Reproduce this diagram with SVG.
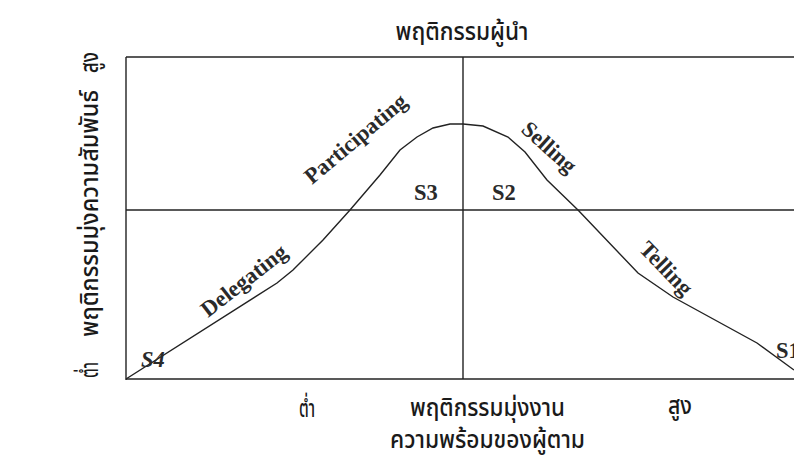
<svg xmlns="http://www.w3.org/2000/svg" width="794" height="459" viewBox="0 0 794 459">
<style>
.ln{fill:none;stroke:#222;stroke-width:1.4}
.th{font-family:"Noto Sans Thai","Noto Serif Thai","Noto Sans Thai Looped",Loma,Garuda,"TlwgTypo","DejaVu Sans",sans-serif;font-size:24px;font-weight:500;fill:#1a1a1a}
.en{font-family:"Liberation Serif","Times New Roman",serif;font-weight:bold;font-size:22.5px;fill:#2a2a2a}
</style>
<rect width="794" height="459" fill="#fff"/>
<g id="axes">
<line class="ln" x1="126" y1="57" x2="794" y2="57"/>
<line class="ln" x1="126" y1="57" x2="126" y2="380"/>
<line class="ln" x1="126" y1="379" x2="794" y2="379"/>
<line class="ln" x1="126" y1="210" x2="794" y2="210"/>
<line class="ln" x1="463" y1="57" x2="463" y2="379"/>
</g>
<g id="connectors">
<polyline id="curve" class="ln" points="126,379 277,283 293,270 323,240 350,210 380,175 400,150 417,137 433,128 450,124 463,124 483,126 508,137 525,152 547,180 578,210 638,273 673,297 757,343 794,370"/>
</g>
<g id="title"><text class="th" x="462" y="40" text-anchor="middle" textLength="133" lengthAdjust="spacingAndGlyphs">พฤติกรรมผู้นำ</text></g>
<g id="y-axis-label">
<text class="th" transform="translate(98,378) rotate(-90)" textLength="16" lengthAdjust="spacingAndGlyphs">ต่ำ</text>
<text class="th" transform="translate(98,337) rotate(-90)" textLength="247" lengthAdjust="spacingAndGlyphs">พฤติกรรมมุ่งความสัมพันธ์</text>
<text class="th" transform="translate(98,73) rotate(-90)" textLength="21" lengthAdjust="spacingAndGlyphs">สูง</text>
</g>
<g id="x-axis-label">
<text class="th" x="299" y="417" textLength="16" lengthAdjust="spacingAndGlyphs">ต่ำ</text>
<text class="th" x="410" y="416" textLength="155" lengthAdjust="spacingAndGlyphs">พฤติกรรมมุ่งงาน</text>
<text class="th" x="668" y="414" textLength="24" lengthAdjust="spacingAndGlyphs">สูง</text>
<text class="th" x="390" y="448" textLength="195" lengthAdjust="spacingAndGlyphs">ความพร้อมของผู้ตาม</text>
</g>
<g id="s4"><text class="en" x="141" y="367" font-style="italic">S4</text></g>
<g id="s3"><text class="en" x="414" y="200" font-weight="normal">S3</text></g>
<g id="s2"><text class="en" x="492" y="200" font-weight="normal">S2</text></g>
<g id="s1"><text class="en" x="776" y="358">S1</text></g>
<g id="delegating"><text class="en" transform="translate(208,318) rotate(-38)">Delegating</text></g>
<g id="participating"><text class="en" transform="translate(312,185) rotate(-40)">Participating</text></g>
<g id="selling"><text class="en" transform="translate(520,131) rotate(42)">Selling</text></g>
<g id="telling"><text class="en" transform="translate(638,250) rotate(46)">Telling</text></g>
</svg>
